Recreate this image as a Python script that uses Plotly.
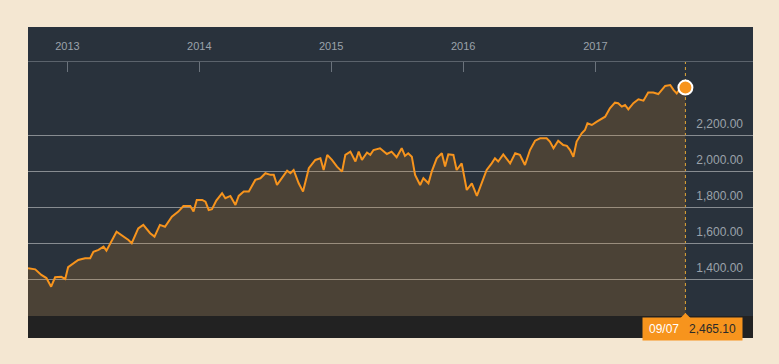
import plotly.graph_objects as go

# ---- data ----
DATES = [
    "2012-09-14", "2012-10-04", "2012-10-21", "2012-11-04", "2012-11-17", "2012-11-28",
    "2012-12-15", "2012-12-26", "2013-01-03", "2013-01-31", "2013-02-19", "2013-03-05",
    "2013-03-14", "2013-03-28", "2013-04-11", "2013-04-19", "2013-05-17", "2013-06-05",
    "2013-06-19", "2013-06-28", "2013-07-16", "2013-07-30", "2013-08-08", "2013-08-18",
    "2013-08-30", "2013-09-14", "2013-09-28", "2013-10-17", "2013-11-04", "2013-11-18",
    "2013-12-07", "2013-12-16", "2013-12-25", "2014-01-09", "2014-01-18", "2014-01-27",
    "2014-02-05", "2014-02-17", "2014-03-05", "2014-03-14", "2014-03-28", "2014-04-11",
    "2014-04-20", "2014-05-04", "2014-05-18", "2014-06-05", "2014-06-19", "2014-07-03",
    "2014-07-17", "2014-07-26", "2014-08-04", "2014-08-18", "2014-09-01", "2014-09-10",
    "2014-09-19", "2014-10-03", "2014-10-15", "2014-10-31", "2014-11-18", "2014-12-02",
    "2014-12-11", "2014-12-21", "2015-01-03", "2015-01-17", "2015-01-31", "2015-02-09",
    "2015-02-23", "2015-03-09", "2015-03-18", "2015-03-27", "2015-04-10", "2015-04-19",
    "2015-04-28", "2015-05-16", "2015-06-04", "2015-06-17", "2015-07-01", "2015-07-15",
    "2015-07-24", "2015-08-02", "2015-08-12", "2015-08-21", "2015-09-04", "2015-09-13",
    "2015-09-27", "2015-10-06", "2015-10-20", "2015-11-03", "2015-11-12", "2015-11-21",
    "2015-12-05", "2015-12-14", "2015-12-28", "2016-01-11", "2016-01-25", "2016-02-08",
    "2016-02-22", "2016-03-06", "2016-03-20", "2016-03-29", "2016-04-07", "2016-04-21",
    "2016-05-10", "2016-05-24", "2016-06-06", "2016-06-20", "2016-07-04", "2016-07-18",
    "2016-08-01", "2016-08-19", "2016-08-28", "2016-09-07", "2016-09-20", "2016-10-04",
    "2016-10-14", "2016-10-23", "2016-11-01", "2016-11-10", "2016-11-24", "2016-12-03",
    "2016-12-10", "2016-12-22", "2017-01-05", "2017-01-18", "2017-01-28", "2017-02-10",
    "2017-02-24", "2017-03-05", "2017-03-15", "2017-03-24", "2017-04-02", "2017-04-16",
    "2017-04-30", "2017-05-14", "2017-05-27", "2017-06-10", "2017-06-24", "2017-07-13",
    "2017-07-27", "2017-08-05", "2017-08-14", "2017-08-24", "2017-09-07",
]
VALUES = [
    1462, 1455, 1424, 1407, 1359, 1411,
    1414, 1402, 1467, 1507, 1517, 1517,
    1553, 1563, 1581, 1559, 1664, 1637,
    1618, 1600, 1683, 1702, 1683, 1656,
    1637, 1702, 1692, 1748, 1776, 1807,
    1807, 1776, 1841, 1841, 1831, 1785,
    1789, 1837, 1878, 1850, 1863, 1813,
    1863, 1887, 1887, 1952, 1961, 1989,
    1980, 1980, 1924, 1961, 2003, 1989,
    2007, 1933, 1887, 2017, 2063, 2072,
    2007, 2091, 2063, 2026, 1998, 2091,
    2109, 2054, 2109, 2063, 2104, 2091,
    2118, 2128, 2096, 2109, 2078, 2128,
    2085, 2100, 2081, 1980, 1924, 1961,
    1933, 1998, 2072, 2100, 2026, 2094,
    2091, 2007, 2044, 1896, 1933, 1863,
    1933, 2007, 2044, 2072, 2054, 2094,
    2044, 2100, 2091, 2035, 2118, 2170,
    2183, 2183, 2165, 2128, 2170, 2146,
    2141, 2118, 2081, 2165, 2211, 2229,
    2266, 2257, 2276, 2289, 2303, 2350,
    2381, 2378, 2359, 2368, 2344, 2378,
    2400, 2392, 2437, 2437, 2429, 2474,
    2479, 2452, 2433, 2461, 2465.10,
]
YEAR_LABELS = ["2013", "2014", "2015", "2016", "2017"]
PRICE_TICKS = [1400, 1600, 1800, 2000, 2200]
LAST_LABEL = "09/07"
X_RANGE = ["2012-09-14", "2018-03-13"]
Y_RANGE = [1196, 2607]

# ---- style ----
PAPER = "#f4e7d2"
PANEL = "#29323c"
BAND = "#222222"
ORANGE = "#f7941d"
GRID = "#878c91"
TXT = "#9ba2aa"
FONT = "Liberation Sans, Arial, sans-serif"

fig = go.Figure()
fig.add_trace(go.Scatter(
    x=DATES, y=VALUES, mode="lines",
    line=dict(color=ORANGE, width=2),
    fill="tozeroy", fillcolor="rgba(245,146,30,0.17)",
    hoverinfo="skip", showlegend=False,
))
fig.add_trace(go.Scatter(
    x=[DATES[-1]], y=[VALUES[-1]], mode="markers",
    marker=dict(size=14, color=ORANGE, line=dict(color="white", width=2)),
    hoverinfo="skip", showlegend=False, cliponaxis=False,
))

shapes = [
    # dark panel including header
    dict(type="rect", xref="paper", yref="paper", x0=0, x1=1, y0=0, y1=1.138,
         fillcolor=PANEL, line=dict(width=0), layer="below"),
    # black band under chart
    dict(type="rect", xref="paper", yref="paper", x0=0, x1=1, y0=-0.087, y1=0,
         fillcolor=BAND, line=dict(width=0), layer="below"),
    # dotted vertical line at last point
    dict(type="line", xref="x", yref="paper", x0=DATES[-1], x1=DATES[-1], y0=0, y1=1,
         line=dict(color="#e0a83a", width=1, dash="dot"), layer="below"),
    # pointer triangle of the label box
    dict(type="path", xref="x", yref="paper", xsizemode="pixel", ysizemode="pixel",
         xanchor=DATES[-1], yanchor=0, path="M -5,-2 L 0,3 L 5,-2 Z",
         fillcolor=ORANGE, line=dict(width=0), layer="above"),
]

fig.add_annotation(
    x=DATES[-1], y=0, xref="x", yref="paper", xanchor="center", yanchor="top",
    xshift=7.5, yshift=-1, showarrow=False,
    text=f"<span style='color:#ffffff'>{LAST_LABEL}</span>&nbsp;&nbsp;&nbsp;"
         f"<span style='color:#2a2a2a'>{VALUES[-1]:,.2f}</span>",
    font=dict(family=FONT, size=12), bgcolor=ORANGE,
    width=95, height=18, borderpad=2, align="center",
)

fig.update_layout(
    width=779, height=364,
    margin=dict(l=28, r=26, t=62, b=48),
    paper_bgcolor=PAPER, plot_bgcolor=PANEL,
    shapes=shapes, showlegend=False,
    font=dict(family=FONT, color=TXT),
    xaxis=dict(
        type="date", range=X_RANGE, side="top",
        tickvals=[f"{y}-01-01" for y in YEAR_LABELS], ticktext=YEAR_LABELS,
        ticks="inside", ticklen=10, tickcolor="#6b737c", tickwidth=1,
        showline=True, linecolor="#5b636c", linewidth=1,
        showgrid=False, zeroline=False,
        tickfont=dict(size=11, color=TXT, family=FONT),
        ticklabelstandoff=7, fixedrange=True,
    ),
    yaxis=dict(
        range=Y_RANGE, side="right",
        tickvals=PRICE_TICKS, tickformat=",.2f",
        ticklabelposition="inside top", ticklabelstandoff=7, ticklabelshift=-3,
        showgrid=True, gridcolor=GRID, gridwidth=1,
        zeroline=False, showline=False, ticks="",
        tickfont=dict(size=12, color=TXT, family=FONT), fixedrange=True,
    ),
)

fig.write_html(
    "out.html",
    config={"displayModeBar": False},
    post_script=f"document.body.style.margin='0';document.body.style.background='{PAPER}';",
)
